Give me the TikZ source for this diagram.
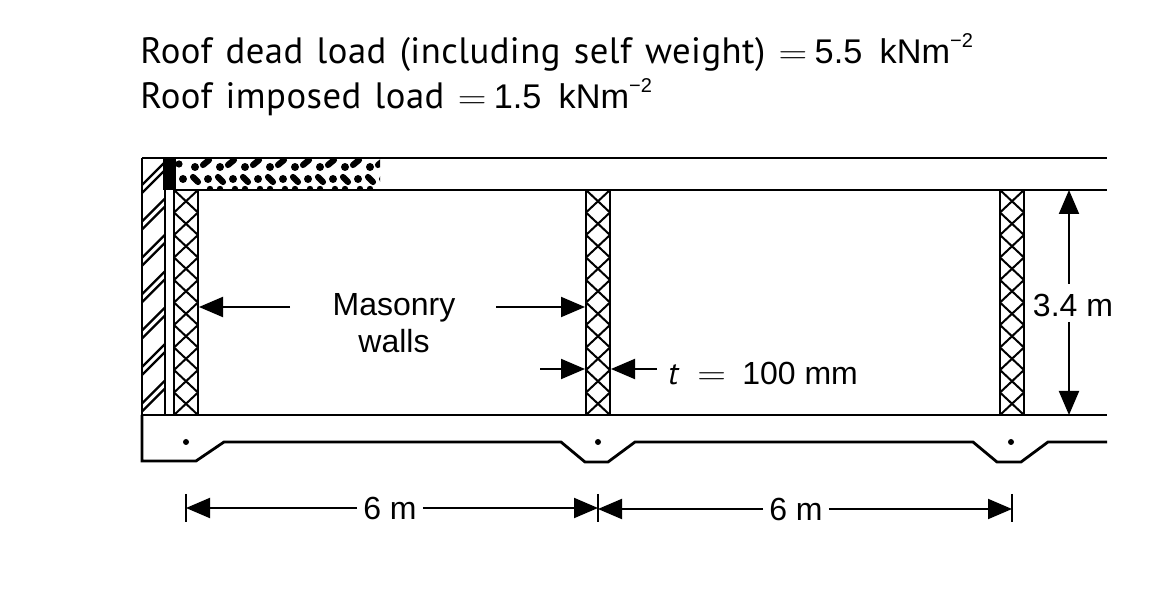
\documentclass[tikz,border=0pt]{standalone}
\usepackage{fontspec}
\setmainfont{Liberation Sans}
\newfontfamily\titlefont[LetterSpace=1.3,WordSpace=1.3]{PT Sans}
\usetikzlibrary{arrows.meta}
\tikzset{
  ln/.style={line width=2.1pt},
  wallln/.style={line width=2.2pt},
  crossln/.style={line width=1.5pt},
  hatchln/.style={line width=1.7pt},
  dim/.style={line width=1.5pt},
  dimarrow/.style={dim,-{Triangle[length=18pt,width=15pt]}},
  lbl/.style={inner sep=0pt,font=\fontsize{24}{26}\selectfont},
  dimlbl/.style={lbl,inner xsep=4.5pt},
  ttl/.style={inner sep=0pt,anchor=base west,font=\titlefont\fontsize{27.5}{30}\selectfont},
  spot/.style={circle,fill=black,inner sep=0pt,minimum size=4.5pt},
  blob/.style={line width=4.6pt,line cap=round},
}
\newcommand{\wallat}[1]{%
  \begin{scope}
    \clip (#1,190) rectangle (#1+24,415);
    \foreach \k in {0,...,9}{
      \draw[crossln] (#1,190+\k*22.5) -- (#1+24,190+\k*22.5+22.5);
      \draw[crossln] (#1+24,190+\k*22.5) -- (#1,190+\k*22.5+22.5);
    }
  \end{scope}
  \draw[wallln] (#1,190) -- (#1,415) (#1+24,190) -- (#1+24,415);
}
\newcommand{\wideeq}{\scalebox{1.2}[1]{$=$}}
\newcommand{\loadval}[1]{\hspace{-4.5pt}{\rmfamily\fontsize{25.7}{30}\selectfont #1\hspace{13pt}kNm\raisebox{12pt}{\fontsize{15}{15}\selectfont −2}}}
\begin{document}
\begin{tikzpicture}[x=0.75pt,y=-0.75pt]
\useasboundingbox (0,0) rectangle (1165,616);
% title
\node[ttl] (t1) at (140,64) {Roof dead load (including self weight) \wideeq{} \loadval{5.5}};
\node[ttl] (t2) at (140,109) {Roof imposed load \wideeq{} \loadval{1.5}};
% left hatched wall
\begin{scope}
  \clip (142,159) rectangle (165,415);
  \foreach \k in {0,...,6}{
    \draw[hatchln] (140,187+\k*36.4) -- (167,160+\k*36.4);
    \draw[hatchln] (140,195+\k*36.4) -- (167,168+\k*36.4);
  }
\end{scope}
\fill (163,158) rectangle (176,190);
\draw[ln] (142,158) -- (142,415);
\draw[wallln] (165,190) -- (165,415);
% aggregate in the roof slab
\begin{scope}
  \clip (176,158) rectangle (380,190);
  \fill (179,164) circle[radius=3.6];
  \foreach \k in {0,...,8}{
    \fill (195+\k*25,167) circle[radius=4];
    \fill (183+\k*25,179) circle[radius=4];
    \draw[blob] (203+\k*25,165) -- (209+\k*25,160);
    \draw[blob] (193+\k*25,177) -- (198+\k*25,182);
    \fill (210+\k*25,189) circle[radius=3.2];
    \fill (220+\k*25,189) circle[radius=3.2];
  }
\end{scope}
% walls
\wallat{174}
\wallat{586}
\wallat{1000}
% structure
\draw[ln] (142,158) -- (1107,158);
\draw[ln] (174,190) -- (1107,190);
\draw[ln] (142,415) -- (1107,415);
\draw[ln,line join=miter] (142,415) -- (142,461) -- (196,461) -- (224,442) -- (561,442) -- (585,462) -- (608,462) -- (635,442) -- (973,442) -- (997,462) -- (1021,462) -- (1048,442) -- (1107,442);
\node[spot] (d1) at (186,442) {};
\node[spot] (d2) at (598,442) {};
\node[spot] (d3) at (1011,442) {};
% labels
\node[lbl] (mas) at (394,308) {Masonry};
\node[lbl] (wal) at (394,341) {walls};
\node[lbl,anchor=base west] (tval) at (668,385) {\titlefont\itshape t};
\node[lbl,anchor=base west] (teq) at (697,385) {\wideeq};
\node[lbl,anchor=base west] (tmm) at (742,385) {100 mm};
\node[dimlbl] (six1) at (390,508) {6 m};
\node[dimlbl] (six2) at (796,509) {6 m};
\node[lbl] (h) at (1073,305) {3.4 m};
% connector ends
\coordinate (mL1) at (290,307); \coordinate (mL2) at (199,307);
\coordinate (mR1) at (496,307); \coordinate (mR2) at (585,307);
\coordinate (tL1) at (540,369); \coordinate (tL2) at (585,369);
\coordinate (tR1) at (657,369); \coordinate (tR2) at (611,369);
\coordinate (a) at (186,508); \coordinate (b) at (598,508); \coordinate (c) at (1012,508);
\coordinate (top) at (1069,190); \coordinate (bot) at (1069,415);
\coordinate (h1) at (1069,284); \coordinate (h2) at (1069,322);
\draw[dimarrow] (mL1) -- (mL2);
\draw[dimarrow] (mR1) -- (mR2);
\draw[dimarrow] (tL1) -- (tL2);
\draw[dimarrow] (tR1) -- (tR2);
\draw[dimarrow] (six1.west) -- (a);
\draw[dimarrow] (six1.east) -- (b);
\draw[dimarrow] (six2.west) -- (b |- six2.west);
\draw[dimarrow] (six2.east) -- (c |- six2.east);
\draw[dimarrow] (h1) -- (top);
\draw[dimarrow] (h2) -- (bot);
\draw[dim] (186,494) -- (186,522);
\draw[dim] (598,494) -- (598,522);
\draw[dim] (1012,494) -- (1012,522);
\end{tikzpicture}
\end{document}
